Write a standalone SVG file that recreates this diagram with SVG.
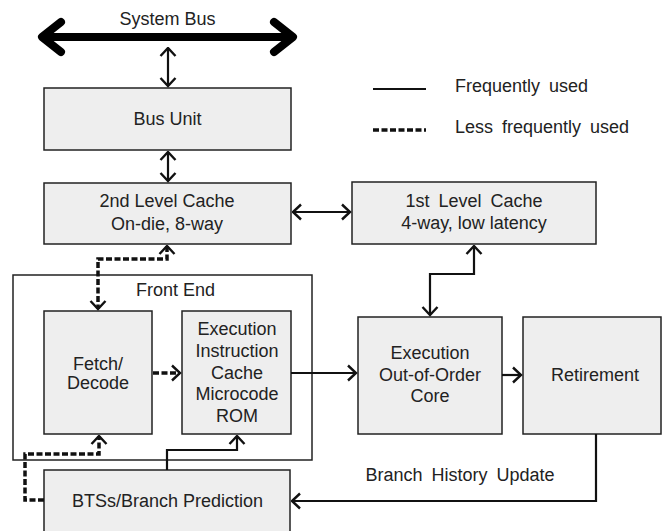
<svg xmlns="http://www.w3.org/2000/svg" width="663" height="531" viewBox="0 0 663 531">
<style>
  .box { fill: #eeeeee; stroke: #222; stroke-width: 1.5; }
  .frame { fill: none; stroke: #222; stroke-width: 1.5; }
  text { font-family: "Liberation Sans", Arial, sans-serif; font-size: 18px; fill: #222; text-anchor: middle; }
  .ws { word-spacing: 4px; }
  .solid { fill: none; stroke: #111; stroke-width: 2.2; }
  .dash { fill: none; stroke: #111; stroke-width: 3.5; stroke-dasharray: 6 2.5; }
</style>
<defs>
  <marker id="a" viewBox="0 0 11 18" refX="9.5" refY="9" markerWidth="11" markerHeight="18" orient="auto-start-reverse" markerUnits="userSpaceOnUse">
    <path d="M1.5,1.5 L9.5,9 L1.5,16.5" fill="none" stroke="#111" stroke-width="2.4"/>
  </marker>
</defs>
<rect width="663" height="531" fill="#ffffff"/>
<g id="system-bus">
  <text x="167.5" y="25">System Bus</text>
  <path d="M42,37 H293" fill="none" stroke="#000" stroke-width="8"/>
  <path d="M61,22 L42,37 L61,52 M274,22 L293,37 L274,52" fill="none" stroke="#000" stroke-width="8" stroke-linecap="round" stroke-linejoin="round"/>
</g>
<g id="legend">
  <line x1="373" y1="89" x2="426" y2="89" class="solid"/>
  <line x1="373" y1="130" x2="426" y2="130" class="dash"/>
  <text x="455" y="92" class="ws" style="text-anchor:start">Frequently used</text>
  <text x="455" y="133" class="ws" style="text-anchor:start">Less frequently used</text>
</g>
<g id="bus-unit">
  <rect x="44" y="88" width="247" height="62" class="box"/>
  <text x="167.5" y="125">Bus Unit</text>
</g>
<g id="l2-cache">
  <rect x="44" y="183" width="247" height="61" class="box"/>
  <text x="167" y="207">2nd Level Cache</text>
  <text x="167" y="230">On-die, 8-way</text>
</g>
<g id="l1-cache">
  <rect x="352" y="182" width="244" height="62" class="box"/>
  <text x="474" y="207" class="ws">1st Level Cache</text>
  <text x="474" y="229">4-way, low latency</text>
</g>
<g id="front-end">
  <rect x="13" y="275" width="299" height="185" class="frame"/>
  <text x="175.5" y="296">Front End</text>
</g>
<g id="fetch-decode">
  <rect x="44" y="311" width="108" height="123" class="box"/>
  <text x="98" y="370">Fetch/</text>
  <text x="98" y="389">Decode</text>
</g>
<g id="exec-icache">
  <rect x="182" y="311" width="109" height="123" class="box"/>
  <text x="237" y="335">Execution</text>
  <text x="237" y="357">Instruction</text>
  <text x="237" y="379">Cache</text>
  <text x="237" y="400">Microcode</text>
  <text x="237" y="422">ROM</text>
</g>
<g id="ooo-core">
  <rect x="358" y="317" width="144" height="117" class="box"/>
  <text x="430" y="359">Execution</text>
  <text x="430" y="381">Out-of-Order</text>
  <text x="430" y="402">Core</text>
</g>
<g id="retirement">
  <rect x="523" y="317" width="138" height="117" class="box"/>
  <text x="595" y="381">Retirement</text>
</g>
<g id="bts">
  <rect x="44" y="470" width="246" height="64" class="box"/>
  <text x="167.5" y="507">BTSs/Branch Prediction</text>
</g>
<g id="connectors">
  <path d="M168,48 V86" class="solid" marker-start="url(#a)" marker-end="url(#a)"/>
  <path d="M168,152 V181" class="solid" marker-start="url(#a)" marker-end="url(#a)"/>
  <path d="M293,212 H350" class="solid" marker-start="url(#a)" marker-end="url(#a)"/>
  <path d="M167,246 V259 H98 V309" class="dash" marker-start="url(#a)" marker-end="url(#a)"/>
  <path d="M153,373 H180" class="dash" marker-end="url(#a)"/>
  <path d="M44,500 H25 V454 H99 V436" class="dash" marker-end="url(#a)"/>
  <path d="M167,470 V450 H237 V436" class="solid" marker-end="url(#a)"/>
  <path d="M291,373 H356" class="solid" marker-end="url(#a)"/>
  <path d="M502,375 H521" class="solid" marker-end="url(#a)"/>
  <path d="M474,246 V274 H430 V315" class="solid" marker-start="url(#a)" marker-end="url(#a)"/>
  <path d="M596,434 V501 H292" class="solid" marker-end="url(#a)"/>
  <text x="460" y="481" class="ws">Branch History Update</text>
</g>
</svg>
